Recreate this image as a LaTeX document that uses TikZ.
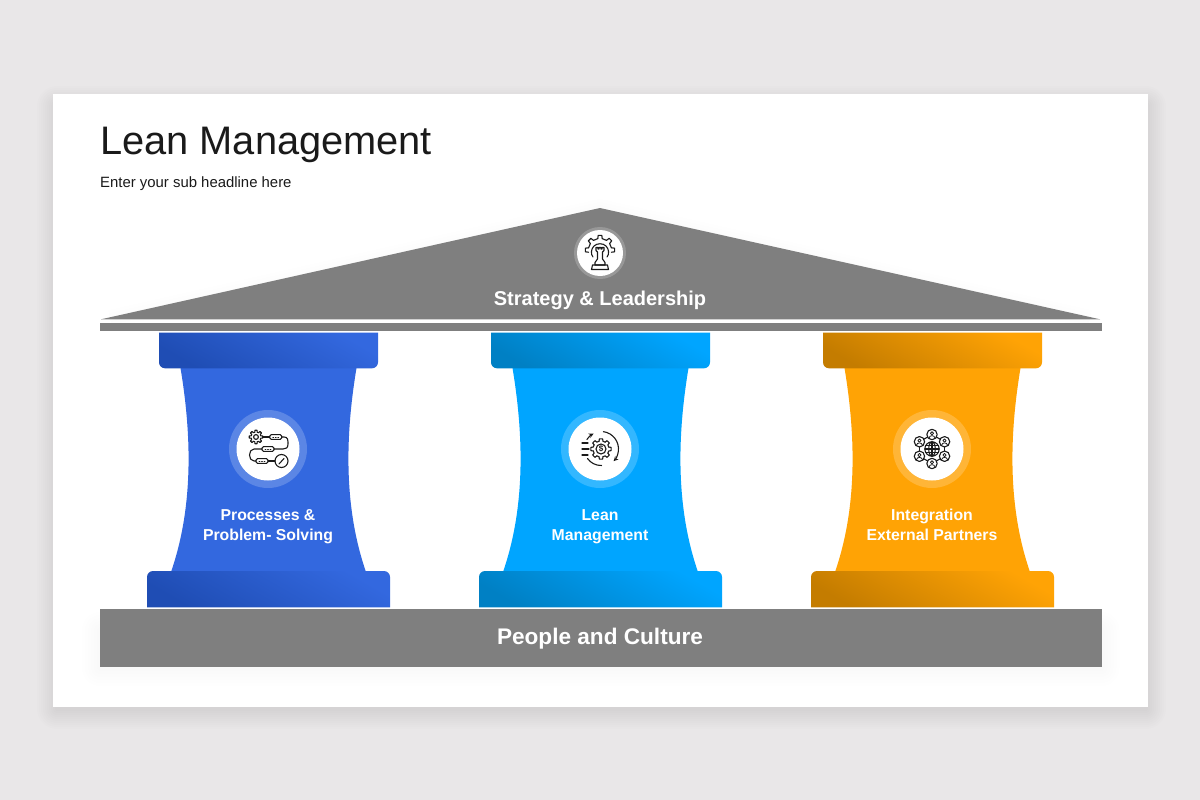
\documentclass[tikz,border=0pt]{standalone}
\usepackage{fontspec}
\setmainfont{Liberation Sans}
\usepackage{tikz}
\usetikzlibrary{positioning}

\definecolor{pagegray}{HTML}{E9E7E8}
\definecolor{stonegray}{HTML}{7F7F7F}
\definecolor{inkblack}{HTML}{1A1A1A}
\definecolor{blueshaft}{HTML}{3368DF}
\definecolor{bluedark}{HTML}{1F4DB4}
\definecolor{cyanshaft}{HTML}{00A5FF}
\definecolor{cyandark}{HTML}{0080C4}
\definecolor{ambershaft}{HTML}{FFA305}
\definecolor{amberdark}{HTML}{C47C00}

\tikzset{
	headline/.style={anchor=west, inner sep=0pt, text=inkblack, font=\fontsize{39.8}{44}\selectfont},
	subline/.style={anchor=west, inner sep=0pt, text=inkblack, font=\fontsize{14.9}{18}\selectfont},
	roofstyle/.style={inner sep=0pt, text=white, font=\bfseries\fontsize{20}{24}\selectfont},
	floorstyle/.style={inner sep=0pt, text=white, font=\bfseries\fontsize{22.6}{24}\selectfont},
	pillarlabel/.style={inner sep=0pt, text=white, align=center, font=\bfseries\fontsize{15.8}{20}\selectfont},
	iconring/.style={circle, inner sep=0pt, fill=white, fill opacity=0.2, minimum size=#1},
	icondisc/.style={circle, inner sep=0pt, fill=white, minimum size=#1},
	iconline/.style={draw=inkblack, line width=1.1pt, line cap=round, line join=round},
	softshade/.style={fill=black, fill opacity=#1, draw=none},
	% Icons, drawn around the centre of their disc
	processicon/.pic={
		\gearshape{(-12,-12)}{5}{6.8}
		\draw[iconline] (-12,-12) circle (2.4);
		\draw[iconline, rounded corners=1.5pt] (1.7,-14.4) rectangle (13.7,-9.6);
		\draw[iconline, rounded corners=1.5pt] (-6,-2.4) rectangle (6,2.4);
		\draw[iconline, rounded corners=1.5pt] (-12,9.6) rectangle (0,14.4);
		\draw[iconline] (-5.2,-12) -- (1.7,-12);
		\draw[iconline] (13.7,-12) -- (16,-12) .. controls (20,-12) and (20,-9) .. (20,-5) .. controls (20,-1) and (18,0) .. (15,0) -- (6,0);
		\draw[iconline] (-6,0) -- (-14,0) .. controls (-20,0) and (-20,12) .. (-14,12) -- (-12,12);
		\draw[iconline] (0,12) -- (7,12);
		\draw[iconline] (13.5,12) circle (6.5);
		\draw[iconline] (11,15) -- (16,9.5);
		\foreach \dx in {-2.5,0,2.5} {
			\draw[iconline, line width=0.7pt] (7.7+\dx-0.5,-12) -- (7.7+\dx+0.5,-12);
			\draw[iconline, line width=0.7pt] (\dx-0.5,0) -- (\dx+0.5,0);
			\draw[iconline, line width=0.7pt] (-6+\dx-0.5,12) -- (-6+\dx+0.5,12);
		}
	},
	moneyicon/.pic={
		\gearshape{(1,0)}{8}{10.3}
		\draw[iconline] (1,0) circle (5);
		\node (dollar) at (1,0) [inner sep=0pt, text=inkblack, font=\bfseries\fontsize{8}{8}\selectfont] {\$};
		\draw[iconline, ->, >=stealth] (1,0) ++(-82:17.5) arc (-82:44:17.5);
		\draw[iconline] (1,0) ++(88:16.5) arc (88:145:16.5);
		\draw[iconline, ->, >=stealth] (1,0) ++(-146:17) arc (-146:-116:17);
		\draw[iconline] (-18,-6) -- (-12,-6);
		\draw[iconline] (-18,0) -- (-11,0);
		\draw[iconline] (-18,6) -- (-12,6);
	},
	networkicon/.pic={
		\draw[iconline] (0,0) circle (7.2);
		\draw[iconline] (0,0) ellipse (3.3 and 7.2);
		\draw[iconline] (0,-7.2) -- (0,7.2);
		\draw[iconline] (-7.2,0) -- (7.2,0);
		\draw[iconline] (-6.3,-3.5) -- (6.3,-3.5);
		\draw[iconline] (-6.3,3.5) -- (6.3,3.5);
		\foreach \a in {-90,-30,30,90,150,210}
			\draw[iconline] (\a:14.5) -- (\a+60:14.5);
		\foreach \a in {-90,-30,30,90,150,210} {
			\fill[white] (\a:14.5) circle (5.2);
			\draw[iconline] (\a:14.5) circle (5.2);
			\draw[iconline, line width=0.8pt] ([yshift=1.2pt]\a:14.5) circle (1.6);
			\draw[iconline, line width=0.8pt] ([shift={(-3,3.4)}]\a:14.5) .. controls ([shift={(-2.4,0.4)}]\a:14.5) and ([shift={(2.4,0.4)}]\a:14.5) .. ([shift={(3,3.4)}]\a:14.5);
		}
	},
	strategyicon/.pic={
		\begin{scope}[shift={(0,-3)}]
			\foreach \a in {-180,-135,-90,-45,0}
				\draw[iconline] (\a-11:11.6) -- (\a-7:14.8) -- (\a+7:14.8) -- (\a+11:11.6);
			\foreach \a in {-180,-135,-90,-45}
				\draw[iconline] (\a+11:11.6) arc (\a+11:\a+34:11.6);
		\end{scope}
		\draw[iconline] (-7,4) .. controls (-9.5,1) and (-9,-4) .. (-6,-7) .. controls (-3,-10) and (3,-10) .. (6,-7) .. controls (9,-4) and (9.5,1) .. (7,4);
		\draw[iconline] (-4,-5.5) -- (-4,-2.5) -- (-2.5,-1) -- (-2.5,6) -- (-5,9.5) -- (-5,12) -- (5,12) -- (5,9.5) -- (2.5,6) -- (2.5,-1) -- (4,-2.5) -- (4,-5.5) -- (2,-5.5) -- (2,-4) -- (1,-4) -- (1,-5.5) -- (-1,-5.5) -- (-1,-4) -- (-2,-4) -- (-2,-5.5) -- cycle;
		\draw[iconline] (-7.5,12) -- (7.5,12) -- (8.5,16.5) -- (-8.5,16.5) -- cycle;
	},
}

% Eight teeth round a centre
\newcommand{\gearshape}[3]{
	\foreach \a in {0,45,...,315}
		\draw[iconline] ([shift={#1}]\a-14:#2) -- ([shift={#1}]\a-9:#3) -- ([shift={#1}]\a+9:#3) -- ([shift={#1}]\a+14:#2) -- ([shift={#1}]\a+31:#2);
}

\begin{document}
\begin{tikzpicture}[x=1pt, y=-1pt]
	\useasboundingbox (0,0) rectangle (1200,800);
	\fill[pagegray] (0,0) rectangle (1200,800);

	% Card with its soft shadow
	\foreach \g in {2,4,...,20}
		\fill[softshade=0.008, rounded corners=\g pt] (53+4-\g,94+12-\g) rectangle (1148+\g-2,707+2+\g);
	\fill[white] (53,94) rectangle (1148,707);

	% Define nodes
	\node[headline] (title) at (100,144.5) {Lean Management};
	\node[subline, below = 21pt of title.south west, anchor=west] (subtitle) {Enter your sub headline here};

	% Roof and beam
	\foreach \g in {6,12,18}
		\draw[black, draw opacity=0.004, line width=\g pt, line join=round] (110,319) -- (600,208) -- (1090,319);
	\fill[stonegray] (101,319.3) -- (600,208) -- (1100,319.3) -- cycle;
	\fill[stonegray] (99.5,322.7) rectangle (1101.5,330.7);
	\node[iconring=52pt] (ringroof) at (600,253) {};
	\node[icondisc=46pt] (discroof) at (ringroof) {};
	\pic at (discroof) {strategyicon};
	\node[roofstyle] (roofname) at (600,300.5) {Strategy \& Leadership};

	% Floor
	\foreach \g in {3,6,...,18}
		\fill[softshade=0.004, rounded corners=\g pt] (100-\g,630-\g) rectangle (1101.5+\g,668+\g);
	\fill[stonegray] (99.5,609.3) rectangle (1101.5,666.7);
	\node[floorstyle] (floorname) at (600,639) {People and Culture};

	% Pillars
	\foreach \cx/\shaftcol/\darkcol/\pname/\ptext/\picon in {
		268.5/blueshaft/bluedark/process/{\strut Processes \&\\\strut Problem- Solving}/processicon,
		600.5/cyanshaft/cyandark/lean/{\strut Lean\\\strut Management}/moneyicon,
		932.5/ambershaft/amberdark/partner/{\strut Integration\\\strut External Partners}/networkicon} {
		\begin{scope}[shift={(\cx,0)}]
			\fill[\shaftcol] (-88,368) .. controls (-76,440) and (-76,510) .. (-97.5,572) -- (97.5,572) .. controls (76,510) and (76,440) .. (88,368) -- cycle;
			\shade[shading=axis, bottom color=\darkcol, top color=\shaftcol, shading angle=-30] (-109.5,332.7) [rounded corners=6pt] -- (-109.5,368.3) -- (109.5,368.3) [sharp corners] -- (109.5,332.7) -- cycle;
			\shade[shading=axis, bottom color=\darkcol, top color=\shaftcol, shading angle=-30] (-121.5,607.3) [rounded corners=6pt] -- (-121.5,571) -- (121.5,571) [sharp corners] -- (121.5,607.3) -- cycle;
			\node[iconring=78pt] (ring\pname) at (-0.5,449) {};
			\node[icondisc=63pt] (disc\pname) at (ring\pname) {};
			\pic at (disc\pname) {\picon};
			\node[pillarlabel, below = 25.5pt of disc\pname] (label\pname) {\ptext};
		\end{scope}
	}
\end{tikzpicture}
\end{document}
